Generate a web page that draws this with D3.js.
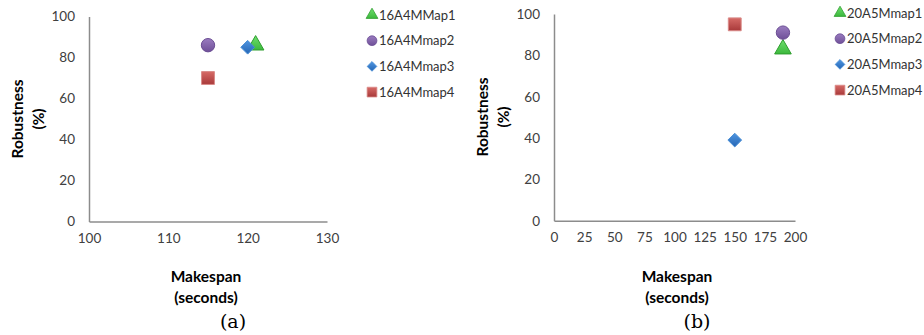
<!DOCTYPE html>
<html>
<head>
<meta charset="utf-8">
<script src="https://cdn.jsdelivr.net/npm/d3@7"></script>
<style>
  body { margin: 0; background: #fff; }
  svg { display: block; }
</style>
</head>
<body>
<svg id="chart" width="924" height="335"></svg>
<script>
// Panel (a) data
const seriesA = ["16A4MMap1", "16A4Mmap2", "16A4Mmap3", "16A4Mmap4"];
const makespanA = [121, 115, 120, 115];
const robustA = [86, 86, 85, 70];
const xTicksA = [100, 110, 120, 130];

// Panel (b) data
const seriesB = ["20A5Mmap1", "20A5Mmap2", "20A5Mmap3", "20A5Mmap4"];
const makespanB = [190, 190, 150, 150];
const robustB = [83, 91, 39, 95];
const xTicksB = [0, 25, 50, 75, 100, 125, 150, 175, 200];

const yTicks = [0, 20, 40, 60, 80, 100];

const FONT = "Lato, 'Open Sans', sans-serif";
const TEXT_COLOR = "#404040";
const AXIS_COLOR = "#8c8c8c";

// One style per series: symbol, fill, stroke
const markers = [
  { type: d3.symbolTriangle, size: 120, legendSize: 60, fill: "url(#gGreen)", stroke: "#2e9e2e" },
  { type: d3.symbolCircle, size: 140, legendSize: 75, fill: "url(#gPurple)", stroke: "#6a4c93" },
  { type: d3.symbolDiamond2, size: 120, legendSize: 60, fill: "url(#gBlue)", stroke: "#4a8fd6" },
  { type: d3.symbolSquare, size: 165, legendSize: 95, fill: "url(#gRed)", stroke: "#d98a88" }
];

const svg = d3.select("#chart");

// Gradients for the markers
const defs = svg.append("defs");
function addGradient(id, top, bottom) {
  const g = defs.append("linearGradient")
    .attr("id", id).attr("x1", 0).attr("y1", 0).attr("x2", 0).attr("y2", 1);
  g.append("stop").attr("offset", "0%").attr("stop-color", top);
  g.append("stop").attr("offset", "100%").attr("stop-color", bottom);
}
addGradient("gGreen", "#6fe06f", "#3cb83c");
addGradient("gPurple", "#9a7cc0", "#6f4f98");
addGradient("gBlue", "#4f95e0", "#2566b5");
addGradient("gRed", "#d66a66", "#a8393a");

const panels = [
  {
    names: seriesA, xs: makespanA, ys: robustA, xTicks: xTicksA,
    xDomain: [100, 130], xRange: [89, 327], yRange: [221.5, 16.5],
    yTitleX: 18, yTitleY: 119, xTitleX: 206, legendX: 372, legendY: 15,
    tag: "(a)", tagX: 233
  },
  {
    names: seriesB, xs: makespanB, ys: robustB, xTicks: xTicksB,
    xDomain: [0, 200], xRange: [554, 795], yRange: [220.7, 14],
    yTitleX: 483, yTitleY: 117, xTitleX: 677, legendX: 840, legendY: 13,
    tag: "(b)", tagX: 697
  }
];

panels.forEach((p) => {
  const x = d3.scaleLinear().domain(p.xDomain).range(p.xRange);
  const y = d3.scaleLinear().domain([0, 100]).range(p.yRange);

  // Axes
  const axisX = d3.axisBottom(x).tickValues(p.xTicks).tickSize(0).tickPadding(12);
  const axisY = d3.axisLeft(y).tickValues(yTicks).tickSize(0).tickPadding(14);

  const gx = svg.append("g").attr("transform", `translate(0, ${p.yRange[0]})`).call(axisX);
  const gy = svg.append("g").attr("transform", `translate(${p.xRange[0]}, 0)`).call(axisY);

  [gx, gy].forEach((g) => {
    g.select(".domain").attr("stroke", AXIS_COLOR).attr("stroke-width", 1.5);
    g.selectAll("text")
      .attr("font-family", FONT)
      .attr("font-size", 13.5)
      .attr("fill", TEXT_COLOR);
  });

  // Y axis title (two lines, rotated)
  const yt = svg.append("g")
    .attr("transform", `translate(${p.yTitleX}, ${p.yTitleY}) rotate(-90)`);
  yt.append("text").text("Robustness")
    .attr("text-anchor", "middle").attr("dy", "0.35em")
    .attr("font-family", FONT).attr("font-weight", "bold")
    .attr("font-size", 15.5).attr("fill", "#000");
  yt.append("text").text("(%)")
    .attr("text-anchor", "middle").attr("dy", "0.35em").attr("y", 21)
    .attr("font-family", FONT).attr("font-weight", "bold")
    .attr("font-size", 15.5).attr("fill", "#000");

  // X axis title (two lines)
  svg.append("text").text("Makespan")
    .attr("x", p.xTitleX).attr("y", 277).attr("dy", "0.35em")
    .attr("text-anchor", "middle")
    .attr("font-family", FONT).attr("font-weight", "bold")
    .attr("font-size", 15.5).attr("fill", "#000");
  svg.append("text").text("(seconds)")
    .attr("x", p.xTitleX).attr("y", 298).attr("dy", "0.35em")
    .attr("text-anchor", "middle")
    .attr("font-family", FONT).attr("font-weight", "bold")
    .attr("font-size", 15.5).attr("fill", "#000");

  // Sub-figure tag
  svg.append("text").text(p.tag)
    .attr("x", p.tagX).attr("y", 321).attr("dy", "0.35em")
    .attr("text-anchor", "middle")
    .attr("font-family", "'DejaVu Serif', 'Liberation Serif', serif")
    .attr("font-size", 19).attr("fill", "#000");

  // Points, drawn in series order
  const points = p.names.map((n, i) => ({ name: n, mx: p.xs[i], ry: p.ys[i], m: markers[i] }));
  svg.append("g").selectAll("path")
    .data(points)
    .enter()
    .append("path")
    .attr("d", (d) => d3.symbol().type(d.m.type).size(d.m.size)())
    .attr("transform", (d) => `translate(${x(d.mx)}, ${y(d.ry)})`)
    .attr("fill", (d) => d.m.fill)
    .attr("stroke", (d) => d.m.stroke)
    .attr("stroke-width", 1);

  // Legend
  const legend = svg.append("g")
    .attr("transform", `translate(${p.legendX}, ${p.legendY})`);
  const items = legend.selectAll("g")
    .data(points)
    .enter()
    .append("g")
    .attr("transform", (d, i) => `translate(0, ${i * 25.7})`);
  items.append("path")
    .attr("d", (d) => d3.symbol().type(d.m.type).size(d.m.legendSize)())
    .attr("fill", (d) => d.m.fill)
    .attr("stroke", (d) => d.m.stroke)
    .attr("stroke-width", 0.8);
  items.append("text")
    .text((d) => d.name)
    .attr("x", 7).attr("dy", "0.35em")
    .attr("font-family", FONT).attr("font-size", 13)
    .attr("fill", "#333");
});
</script>
</body>
</html>
